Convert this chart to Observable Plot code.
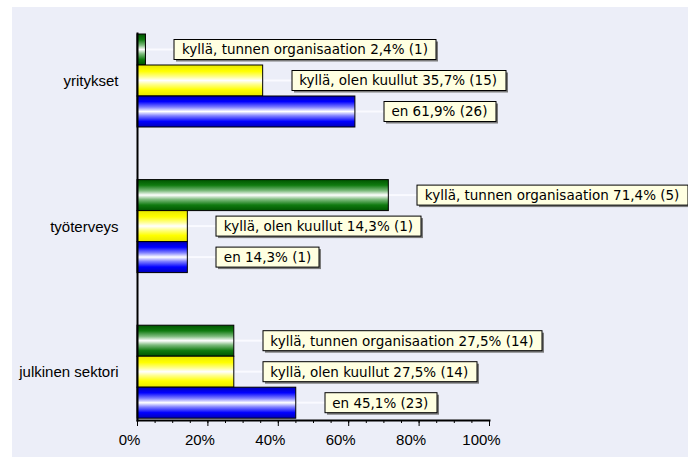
<!DOCTYPE html>
<html>
<head>
<meta charset="utf-8">
<script src="https://cdn.jsdelivr.net/npm/d3@7"></script>
<script src="https://cdn.jsdelivr.net/npm/@observablehq/plot@0.6"></script>
<style>
  html, body { margin: 0; padding: 0; background: #ffffff; }
  #chart { padding: 7px 0 0 12px; }
</style>
</head>
<body>
<div id="chart"></div>
<script>
// Survey answers per sector, in percent, with respondent counts
const categories = ["yritykset", "työterveys", "julkinen sektori"];
const series = ["kyllä, tunnen organisaation", "kyllä, olen kuullut", "en"];
const tunnenPct = [2.4, 71.4, 27.5];
const tunnenN = [1, 5, 14];
const kuullutPct = [35.7, 14.3, 27.5];
const kuullutN = [15, 1, 14];
const enPct = [61.9, 14.3, 45.1];
const enN = [26, 1, 23];
const xTicks = [0, 20, 40, 60, 80, 100];
const xMinorTicks = d3.range(0, 101, 5);

const pctBySeries = [tunnenPct, kuullutPct, enPct];
const nBySeries = [tunnenN, kuullutN, enN];
const rows = categories.flatMap((category, c) =>
  series.map((s, k) => ({category, series: s, value: pctBySeries[k][c], n: nBySeries[k][c]}))
);
const fmt = v => v.toFixed(1).replace(".", ",");

// Cylinder-style gradients: dark edges, white centre line
const gradients = [
  {id: "grad-green", stops: [[0, "#005400"], [0.18, "#0f7a0f"], [0.36, "#7dbb7d"], [0.5, "#ffffff"], [0.64, "#7dbb7d"], [0.82, "#0f7a0f"], [1, "#005400"]]},
  {id: "grad-yellow", stops: [[0, "#e8e800"], [0.2, "#ffff00"], [0.38, "#ffff90"], [0.5, "#ffffff"], [0.62, "#ffff90"], [0.8, "#ffff00"], [1, "#e8e800"]]},
  {id: "grad-blue", stops: [[0, "#0000b8"], [0.18, "#0000ff"], [0.36, "#8080ff"], [0.5, "#ffffff"], [0.64, "#8080ff"], [0.82, "#0000ff"], [1, "#0000b8"]]}
];

const chart = Plot.plot({
  width: 676,
  height: 450,
  marginTop: 26,
  marginBottom: 37,
  marginLeft: 125,
  marginRight: 199,
  style: {
    background: "#eceef8",
    fontFamily: "'Liberation Sans', Arial, sans-serif",
    fontSize: "15px",
    color: "#000",
    overflow: "visible"
  },
  x: {domain: [0, 100]},
  y: {domain: series, padding: 0, axis: null},
  fy: {domain: categories, paddingInner: 0.342, paddingOuter: 0, round: false},
  color: {domain: series, range: gradients.map(g => `url(#${g.id})`)},
  marks: [
    Plot.barX(rows, {x: "value", y: "series", fy: "category", fill: "series", stroke: "#000", strokeWidth: 1}),
    Plot.frame({anchor: "left", facet: "super", stroke: "#000", strokeWidth: 2}),
    Plot.frame({anchor: "bottom", facet: "super", stroke: "#000", strokeWidth: 2}),
    Plot.axisX({ticks: xMinorTicks, tickSize: 3, tickFormat: () => "", label: null}),
    Plot.axisX({ticks: xTicks, tickSize: 6, tickFormat: () => "", label: null}),
    Plot.axisX({ticks: xTicks, tickSize: 0, tickPadding: 14, dx: -8, tickFormat: d => d + "%", label: null, fontSize: 15}),
    Plot.axisFy({anchor: "left", tickSize: 0, tickPadding: 19, label: null, fontSize: 15}),
    Plot.text(rows, {
      x: "value", y: "series", fy: "category",
      text: d => `${d.series} ${fmt(d.value)}% (${d.n})`,
      textAnchor: "start", dx: 36, fill: "#000",
      fontFamily: "'DejaVu Sans', sans-serif", fontSize: 13.5,
      className: "bar-label"
    })
  ]
});

document.getElementById("chart").append(chart);

const svg = d3.select(chart);
const defs = svg.insert("defs", ":first-child");
for (const g of gradients) {
  const lg = defs.append("linearGradient")
    .attr("id", g.id).attr("x1", 0).attr("y1", 0).attr("x2", 0).attr("y2", 1);
  for (const [o, c] of g.stops) lg.append("stop").attr("offset", o).attr("stop-color", c);
}

// Callout boxes with leader lines behind each value label
svg.selectAll(".bar-label text").each(function () {
  const text = this;
  const parent = text.parentNode;
  const m = parent.getScreenCTM();
  const b = text.getBoundingClientRect();
  const left = b.left - m.e;
  const cy = b.top - m.f + b.height / 2;
  const bx = Math.round(left - 8) + 0.5;
  const by = Math.round(cy - 10) + 0.5;
  const bw = Math.round(b.width + 16);
  const bh = 20;
  const g = d3.select(parent);
  g.insert("line", () => text)
    .attr("x1", bx - 28).attr("x2", bx).attr("y1", by + bh / 2).attr("y2", by + bh / 2)
    .attr("stroke", "#fafaff").attr("stroke-width", 2);
  g.insert("rect", () => text)
    .attr("x", bx + 2).attr("y", by + 2).attr("width", bw).attr("height", bh)
    .attr("fill", "#7a7a7a");
  g.insert("rect", () => text)
    .attr("x", bx).attr("y", by).attr("width", bw).attr("height", bh)
    .attr("fill", "#ffffe1").attr("stroke", "#000").attr("stroke-width", 1);
});
</script>
</body>
</html>
